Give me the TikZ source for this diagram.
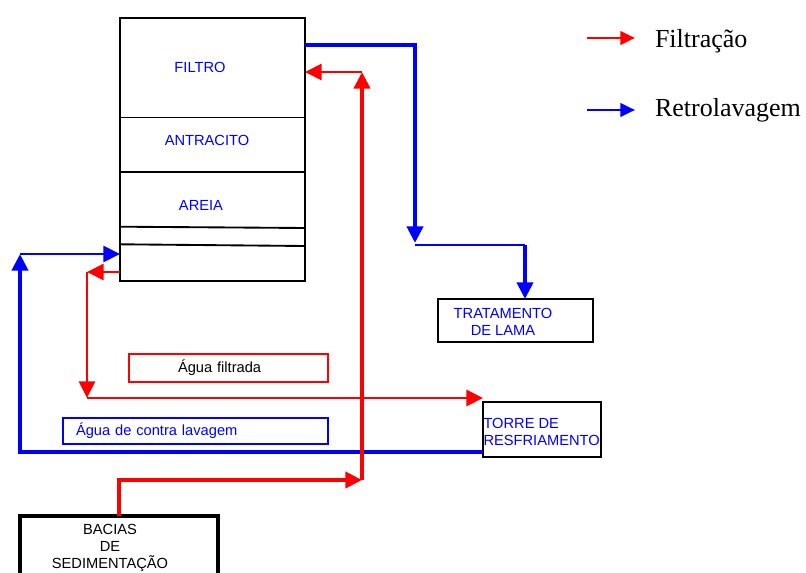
\documentclass[tikz,border=0pt]{standalone}
\usepackage{fontspec}
\setmainfont{Liberation Sans}
\newfontfamily\legendfont{Liberation Serif}
\usetikzlibrary{arrows.meta}
\begin{document}
\begin{tikzpicture}[x=0.75pt,y=-0.75pt,
  every node/.style={font=\fontsize{11}{12.75}\selectfont, inner sep=0pt, outer sep=0pt},
  boxline/.style={draw=black, line width=1.4pt},
  bluetext/.style={text=blue},
  redthick/.style={draw=red, line width=3pt},
  redthin/.style={draw=red, line width=2.1pt},
  bluethick/.style={draw=blue, line width=3pt},
  bluethin/.style={draw=blue, line width=2.1pt},
  tip/.style={-{Triangle[length=12.5pt,width=12pt]}},
  legtip/.style={-{Triangle[length=11pt,width=10pt]}},
  legtext/.style={font=\legendfont\fontsize{19.5}{22}\selectfont, anchor=base west}
]
\useasboundingbox (0,0) rectangle (806,573);

% filter column
\node[boxline, minimum width=138.75pt, minimum height=197.25pt] (filtro) at (212.5,149.5) {};
\draw[line width=1.4pt] (120,117.5) -- (305,117.5);
\draw[line width=1.4pt] (120,172) -- (305,172);
\draw[line width=1.4pt] (120,226.7) -- (305,228);
\draw[line width=1.4pt] (120,244.3) -- (305,246);
\node[bluetext] (lfiltro) at (200,67) {FILTRO};
\node[bluetext] (lantr) at (207,140) {ANTRACITO};
\node[bluetext] (lareia) at (201,205) {AREIA};

% other boxes
\node[boxline, minimum width=116.25pt, minimum height=32.25pt] (trat) at (515.5,320.5) {};
\node[bluetext, align=center] (trattext) at (503,321.5) {TRATAMENTO\\DE LAMA};
\node[boxline, minimum width=88.5pt, minimum height=41.25pt] (torre) at (542,429.5) {};
\node[bluetext, align=left, anchor=west] (torretext) at (483.5,431.5) {TORRE DE\\RESFRIAMENTO};
\node[draw=black, line width=2.6pt, minimum width=148.5pt, minimum height=63pt] (bacias) at (119,558) {};
\node[align=center] (baciastext) at (110,548) {BACIAS\\DE\\SEDIMENTAÇÃO};

% labelled boxes
\node[draw=red, line width=1.2pt, text width=149.25pt, align=left, minimum height=21pt] (aguaf) at (228.5,368) {\hspace*{36.75pt}Água filtrada};
\node[draw=blue, bluetext, line width=1.2pt, text width=179.25pt, inner xsep=9.75pt, align=left, minimum height=19.5pt] (aguac) at (195.5,431) {Água de contra lavagem};

% route points
\coordinate (b1) at (415,45);
\coordinate (b2) at (415,243);
\coordinate (b3) at (525,245);
\coordinate (b4) at (20,452);
\coordinate (b5) at (20,254);
\coordinate (r1) at (87,272);
\coordinate (r2) at (87,398);
\coordinate (r3) at (362,480);
\coordinate (r4) at (362,72);

% backwash (blue)
\draw[bluethick, tip] (filtro.east |- b1) -- (b1) -- (b2);
\draw[bluethin] (b2 |- b3) -- (b3);
\draw[bluethick, tip] (b3) -- (trat.north -| b3);
\draw[bluethick, tip] (torre.west |- b4) -- (b4) -- (b5);
\draw[bluethin, tip] (b5) -- (filtro.west |- b5);

% filtration (red)
\draw[redthick, tip] (bacias.north) |- (r3);
\draw[redthick, tip] (r3) -- (r4);
\draw[redthin, tip] (r4) -- (filtro.east |- r4);
\draw[redthin, tip] (filtro.west |- r1) -- (r1);
\draw[redthin, tip] (r1) -- (r2);
\draw[redthin, tip] (r2) -- (torre.west |- r2);

% legend
\coordinate (lf1) at (587,38);
\coordinate (lf2) at (635,38);
\coordinate (lr1) at (587,110);
\coordinate (lr2) at (635,110);
\draw[redthin, legtip] (lf1) -- (lf2);
\draw[bluethin, legtip] (lr1) -- (lr2);
\node[legtext] (tfiltr) at (655,48) {Filtração};
\node[legtext] (tretro) at (655,117) {Retrolavagem};
\end{tikzpicture}
\end{document}
